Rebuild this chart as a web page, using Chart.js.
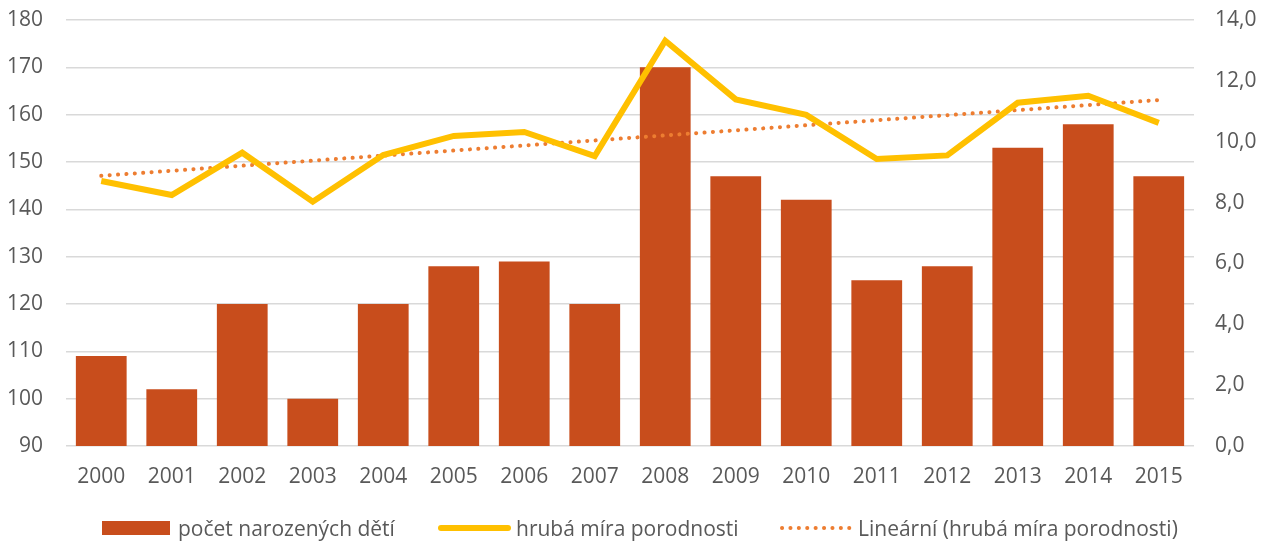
<!DOCTYPE html>
<html>
<head>
<meta charset="utf-8">
<script src="https://cdn.jsdelivr.net/npm/chart.js@4"></script>
<style>
  html, body { margin: 0; padding: 0; background: #fff; }
  #wrap { position: relative; width: 1268px; height: 542px; }
  #legend {
    position: absolute; left: 0; top: 515px; width: 1268px; height: 26px;
    font-family: "Open Sans", sans-serif; font-size: 21px; color: #595959;
  }
  .item { position: absolute; top: 0; height: 26px; line-height: 26px; white-space: nowrap; }
  .item svg { position: absolute; left: 0; top: 0; }
  .item span { position: absolute; top: 0; }
</style>
</head>
<body>
<div id="wrap">
  <canvas id="chart" width="1268" height="542"></canvas>
  <div id="legend"></div>
</div>
<script>
var years = ['2000', '2001', '2002', '2003', '2004', '2005', '2006', '2007',
             '2008', '2009', '2010', '2011', '2012', '2013', '2014', '2015'];
var births = [109, 102, 120, 100, 120, 128, 129, 120, 170, 147, 142, 125, 128, 153, 158, 147];
var birthRate = [8.71, 8.25, 9.64, 8.03, 9.56, 10.19, 10.32, 9.53, 13.32, 11.39, 10.88, 9.43, 9.55, 11.28, 11.51, 10.62];
// trend line: only the two end points
var trend = [8.88, null, null, null, null, null, null, null, null, null, null, null, null, null, null, 11.37];

var seriesNames = ['počet narozených dětí', 'hrubá míra porodnosti', 'Lineární (hrubá míra porodnosti)'];

var barColor = '#C84D1C';
var lineColor = '#FFC000';
var trendColor = '#ED7D31';
var textColor = '#595959';
var gridColor = '#D9D9D9';
var font = { family: 'Open Sans', size: 21 };

function fixY(width) {
    return function(scale) {
        scale.width = width;
        scale.paddingTop = 0;
        scale.paddingBottom = 0;
    };
}

var ctx = document.getElementById('chart').getContext('2d');
var chart = new Chart(ctx, {
    type: 'bar',
    data: {
        labels: years,
        datasets: [{
            type: 'line',
            label: seriesNames[1],
            data: birthRate,
            yAxisID: 'y1',
            borderColor: lineColor,
            backgroundColor: lineColor,
            borderWidth: 6,
            borderJoinStyle: 'miter',
            pointRadius: 0,
            tension: 0,
            order: 0
        }, {
            type: 'line',
            label: seriesNames[2],
            data: trend,
            yAxisID: 'y1',
            borderColor: trendColor,
            borderWidth: 4,
            borderCapStyle: 'round',
            borderDash: [0.1, 8.3],
            pointRadius: 0,
            spanGaps: true,
            tension: 0,
            order: 1
        }, {
            label: seriesNames[0],
            data: births,
            yAxisID: 'y',
            backgroundColor: barColor,
            barPercentage: 0.72,
            categoryPercentage: 1,
            order: 2
        }]
    },
    options: {
        responsive: false,
        animation: false,
        layout: {
            padding: { top: 20, left: 0, right: 0, bottom: 46 }
        },
        scales: {
            x: {
                grid: { display: false, drawTicks: false },
                border: { display: false },
                ticks: { color: textColor, font: font, padding: 18, maxRotation: 0 },
                afterFit: function(scale) { scale.height = 50; }
            },
            y: {
                position: 'left',
                min: 90,
                max: 180,
                grid: { color: gridColor, lineWidth: 1.5, drawTicks: false },
                border: { display: false },
                ticks: { stepSize: 10, color: textColor, font: font, padding: 23 },
                afterFit: fixY(66)
            },
            y1: {
                position: 'right',
                min: 0,
                max: 14,
                grid: { display: false, drawTicks: false },
                border: { display: false },
                ticks: {
                    stepSize: 2, color: textColor, font: font, padding: 21,
                    callback: function(v) { return v.toFixed(1).replace('.', ','); }
                },
                afterFit: fixY(74)
            }
        },
        plugins: {
            legend: { display: false },
            tooltip: { enabled: false }
        }
    }
});

// legend under the chart
var legendItems = [
    { x: 102, text: seriesNames[0], svg: '<rect x="0" y="6" width="68" height="14" fill="' + barColor + '"/>', w: 76 },
    { x: 438, text: seriesNames[1], svg: '<line x1="3" y1="13" x2="70" y2="13" stroke="' + lineColor + '" stroke-width="6" stroke-linecap="round"/>', w: 78 },
    { x: 780, text: seriesNames[2], svg: '<line x1="2" y1="13" x2="70" y2="13" stroke="' + trendColor + '" stroke-width="4" stroke-linecap="round" stroke-dasharray="0.1 8.3"/>', w: 78 }
];
var legend = document.getElementById('legend');
legendItems.forEach(function(it) {
    var d = document.createElement('div');
    d.className = 'item';
    d.style.left = it.x + 'px';
    d.innerHTML = '<svg width="74" height="26">' + it.svg + '</svg><span style="left:' + it.w + 'px">' + it.text + '</span>';
    legend.appendChild(d);
});
</script>
</body>
</html>
